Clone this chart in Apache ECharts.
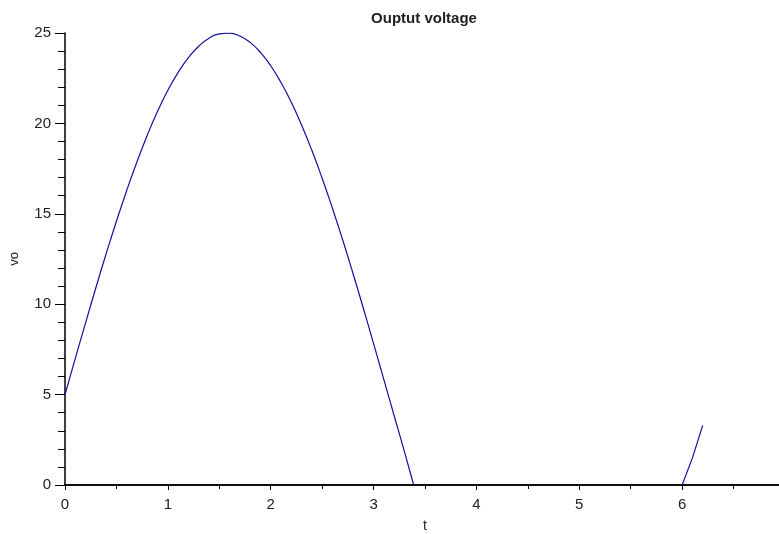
<!DOCTYPE html>
<html>
<head>
<meta charset="utf-8">
<script src="https://cdn.jsdelivr.net/npm/echarts@6/dist/echarts.min.js"></script>
<style>html,body{margin:0;padding:0;background:#fff;}#c{width:779px;height:534px;}</style>
</head>
<body>
<div id="c"></div>
<script>
// First conduction interval
var t1 = [0, 0.1, 0.2, 0.3, 0.4, 0.5, 0.6, 0.7, 0.8, 0.9, 1.0, 1.1, 1.2, 1.3, 1.4, 1.5, 1.6, 1.7, 1.8, 1.9, 2.0, 2.1, 2.2, 2.3, 2.4, 2.5, 2.6, 2.7, 2.8, 2.9, 3.0, 3.1, 3.2, 3.3, 3.39];
var v1 = [5.0, 7.0, 8.97, 10.91, 12.79, 14.59, 16.29, 17.88, 19.35, 20.67, 21.83, 22.82, 23.64, 24.27, 24.71, 24.95, 24.99, 24.83, 24.48, 23.93, 23.19, 22.26, 21.17, 19.91, 18.51, 16.97, 15.31, 13.55, 11.70, 9.79, 7.82, 5.83, 3.83, 1.85, 0];
// Second conduction interval
var t2 = [6.0, 6.1, 6.2];
var v2 = [0, 1.5, 3.3];
var xTicks = [0, 1, 2, 3, 4, 5, 6];
var yTicks = [0, 5, 10, 15, 20, 25];

function pairs(a, b) { return a.map(function (x, i) { return [x, b[i]]; }); }

var chart = echarts.init(document.getElementById('c'));
var font = 'Liberation Sans, Arial, sans-serif';
chart.setOption({
  animation: false,
  backgroundColor: '#fff',
  title: {
    text: 'Ouptut voltage', left: 419, top: 6, textAlign: 'center',
    textStyle: { fontSize: 15, fontWeight: 'bold', color: '#222', fontFamily: font }
  },
  grid: { left: 65, top: 33, bottom: 49, right: -6, outerBoundsMode: 'none', containLabel: false },
  xAxis: [{
    type: 'value', min: 0, max: 7, interval: 1,
    name: 't', nameLocation: 'middle', nameGap: 34,
    nameTextStyle: { fontSize: 14, color: '#222', fontFamily: font },
    axisLine: { show: true, onZero: false, lineStyle: { color: '#000', width: 1.5 } },
    axisTick: { show: true, length: 5, lineStyle: { color: '#000' } },
    minorTick: { show: true, splitNumber: 2, length: 4, lineStyle: { color: '#000' } },
    axisLabel: { fontSize: 15, color: '#222', fontFamily: font, margin: 12,
      formatter: function (v) { return xTicks.indexOf(v) >= 0 ? String(v) : ''; } },
    splitLine: { show: false }
  }, {
    type: 'value', min: 0, max: 7, position: 'top',
    axisLine: { show: true, lineStyle: { color: '#000', width: 1.5 } },
    axisTick: { show: false }, axisLabel: { show: false }, splitLine: { show: false }
  }],
  yAxis: {
    type: 'value', min: 0, max: 25, interval: 5,
    name: 'vo', nameLocation: 'middle', nameGap: 44, nameRotate: 90,
    nameTextStyle: { fontSize: 13, color: '#222', fontFamily: font },
    axisLine: { show: true, lineStyle: { color: '#000', width: 1.5 } },
    axisTick: { show: true, length: 10, lineStyle: { color: '#000' } },
    minorTick: { show: true, splitNumber: 5, length: 7, lineStyle: { color: '#000' } },
    axisLabel: { fontSize: 15, color: '#222', fontFamily: font, margin: 14,
      formatter: function (v) { return yTicks.indexOf(v) >= 0 ? String(v) : ''; } },
    splitLine: { show: false }
  },
  series: [{
    type: 'line', data: pairs(t1, v1), smooth: true, symbol: 'none',
    lineStyle: { color: '#10109a', width: 1.2 }, clip: true
  }, {
    type: 'line', data: pairs(t2, v2), smooth: false, symbol: 'none',
    lineStyle: { color: '#10109a', width: 1.2 }, clip: true
  }]
});
</script>
</body>
</html>
